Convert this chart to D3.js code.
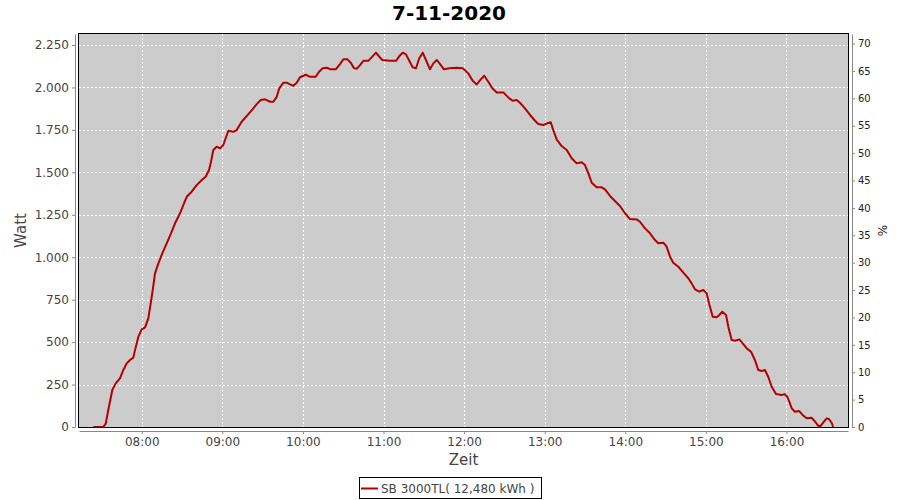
<!DOCTYPE html>
<html><head><meta charset="utf-8">
<script src="https://cdn.jsdelivr.net/npm/d3@7"></script>
<style>
html,body{margin:0;padding:0;background:#fff;}
svg{display:block;}
text{font-family:"DejaVu Sans",sans-serif;}
</style></head>
<body><svg id="c" width="900" height="500"></svg>
<script>
const title = "7-11-2020";
const seriesName = "SB 3000TL( 12,480 kWh )";
const xLabel = "Zeit";
const yLabel = "Watt";
const y2Label = "%";
// minutes since midnight
const times = [444,451.4,453.2,455.1,457.1,458.1,460.6,463.8,466.3,468.8,471.3,473.7,475,477.5,480,482.5,484.9,486.7,488.2,489.9,492.4,495.3,498.6,501.8,504.8,508.5,511,513.5,517.2,520.9,524.7,527.6,530.1,531.6,533.3,535.8,538.3,540.7,544.5,548.2,550.7,554.4,559.4,563.1,565.6,568.6,571.8,575.5,578,580.5,582.4,585.4,587.9,590.4,592.9,595.4,597.8,602.1,605.3,609.5,612,614.7,617.7,620.2,624.6,627.6,630.1,633,635.6,638,640,642.5,645,648.7,652,654.4,656.9,659.1,664.8,669.3,671.8,674.3,676.7,679.2,681.7,684.2,686.6,689.2,691.6,694.6,697.1,699.6,702.1,705,709,714.5,719,723.1,726.4,729.4,732.4,735,738,741,744.3,749.2,753.6,756.2,759.2,761.6,765.3,769.1,772.8,775.2,779,781.9,784.5,786.4,788.9,792.6,796.4,800.1,803.8,807.5,810,812.5,815,818.7,822.4,824.9,828.6,832.3,836,839.8,843.5,848.5,850.9,854.7,858.4,862.1,864.6,868.3,870.8,873.3,875.7,879.5,883.2,886.9,889.4,891.9,895.1,898.1,900.6,902.3,905.1,908,910,912.2,915,916.7,919.2,921.7,924.9,927.4,930.4,933.6,936.5,939,941.5,944,946.4,949,952.2,956.4,958.4,960.6,962.1,963.9,966.3,969.5,972,975,978.7,980.7,983.7,985.4,987.9,989.9,991.6,993.6,994.8];
const watts = [0,0,20,100,178,218,257,287,336,375,395,408,453,532,575,587,640,729,807,905,964,1023,1082,1141,1200,1259,1308,1356,1386,1425,1455,1474,1514,1563,1632,1651,1641,1661,1745,1739,1749,1798,1843,1877,1902,1926,1930,1916,1916,1945,1995,2028,2028,2018,2010,2028,2060,2075,2063,2063,2093,2113,2116,2108,2108,2138,2166,2167,2146,2114,2110,2132,2157,2157,2185,2205,2181,2162,2157,2157,2185,2205,2195,2157,2119,2113,2172,2205,2162,2107,2142,2162,2138,2107,2113,2116,2113,2083,2040,2018,2048,2069,2034,1995,1971,1971,1936,1922,1926,1910,1877,1838,1804,1785,1779,1789,1795,1749,1694,1655,1632,1583,1553,1559,1543,1494,1439,1412,1412,1400,1361,1331,1302,1259,1225,1223,1209,1170,1141,1101,1082,1086,1062,1003,968,944,909,876,846,811,797,807,787,729,650,646,660,679,660,591,512,508,516,493,463,443,395,336,330,336,296,237,194,188,194,178,149,110,90,94,71,51,55,37,6,6,31,51,47,25,0];
const xTicks = [480,540,600,660,720,780,840,900,960];
const yTicks = [0,250,500,750,1000,1250,1500,1750,2000,2250];
const y2Ticks = [0,5,10,15,20,25,30,35,40,45,50,55,60,65,70];

const svg = d3.select("#c");
const L = 79, R = 848, T = 34, B = 427;
const x = d3.scaleLinear().domain([433.3, 1005.8]).range([L, R]);
const y = d3.scaleLinear().domain([0, 2315]).range([B, T]);
const y2 = d3.scaleLinear().domain([0, 71.75]).range([B, T]);

svg.append("rect").attr("x", L).attr("y", T).attr("width", R - L).attr("height", B - T).attr("fill", "#cccccc");

const g = svg.append("g").attr("stroke", "#ffffff").attr("stroke-dasharray", "2,2").attr("stroke-width", 1);
xTicks.forEach(t => g.append("line").attr("x1", Math.round(x(t)) + 0.5).attr("x2", Math.round(x(t)) + 0.5).attr("y1", T).attr("y2", B));
yTicks.forEach(t => g.append("line").attr("x1", L).attr("x2", R).attr("y1", Math.round(y(t)) + 0.5).attr("y2", Math.round(y(t)) + 0.5));

const line = d3.line().x((d, i) => x(times[i])).y((d, i) => y(watts[i]));
svg.append("path").datum(watts).attr("d", line).attr("fill", "none").attr("stroke", "#b40000").attr("stroke-width", 2).attr("stroke-linejoin", "round");

svg.append("rect").attr("x", L - 0.5).attr("y", T - 0.5).attr("width", R - L + 1).attr("height", B - T + 1).attr("fill", "none").attr("stroke", "#000").attr("stroke-width", 1);

function styleAxis(sel, col, size) {
  sel.select(".domain").attr("stroke", "#888888");
  sel.selectAll(".tick line").attr("stroke", "#888888");
  sel.selectAll(".tick text").attr("fill", col).style("font-size", size + "px").style("font-family", "DejaVu Sans, sans-serif");
}
const xa = svg.append("g").attr("transform", `translate(0,${B + 4})`)
  .call(d3.axisBottom(x).tickValues(xTicks).tickSizeInner(3).tickSizeOuter(0).tickPadding(3)
    .tickFormat(m => String(Math.floor(m / 60)).padStart(2, "0") + ":" + String(m % 60).padStart(2, "0")));
styleAxis(xa, "#444444", 12);
const ya = svg.append("g").attr("transform", `translate(${L - 4},0)`)
  .call(d3.axisLeft(y).tickValues(yTicks).tickSizeInner(3).tickSizeOuter(0).tickPadding(3)
    .tickFormat(v => d3.format(",")(v).replace(",", ".")));
styleAxis(ya, "#444444", 12);
const y2a = svg.append("g").attr("transform", `translate(${R + 4},0)`)
  .call(d3.axisRight(y2).tickValues(y2Ticks).tickSizeInner(3).tickSizeOuter(0).tickPadding(3));
styleAxis(y2a, "#222222", 10);

svg.append("text").attr("x", 449).attr("y", 20).attr("text-anchor", "middle").style("font-size", "20px").style("font-weight", "bold").attr("fill", "#000").text(title);
svg.append("text").attr("x", (L + R) / 2).attr("y", 465).attr("text-anchor", "middle").style("font-size", "15px").attr("fill", "#444").text(xLabel);
svg.append("text").attr("transform", `translate(26,${(T + B) / 2}) rotate(-90)`).attr("text-anchor", "middle").style("font-size", "15px").attr("fill", "#444").text(yLabel);
svg.append("text").attr("transform", `translate(887,${(T + B) / 2}) rotate(-90)`).attr("text-anchor", "middle").style("font-size", "12px").attr("fill", "#222").text(y2Label);

const lg = svg.append("g");
lg.append("rect").attr("x", 359.5).attr("y", 477.5).attr("width", 182).attr("height", 21).attr("fill", "#fff").attr("stroke", "#000");
lg.append("line").attr("x1", 361).attr("x2", 378).attr("y1", 488.5).attr("y2", 488.5).attr("stroke", "#b40000").attr("stroke-width", 2);
lg.append("text").attr("x", 381).attr("y", 493).style("font-size", "12px").attr("fill", "#444").text(seriesName);
</script></body></html>
